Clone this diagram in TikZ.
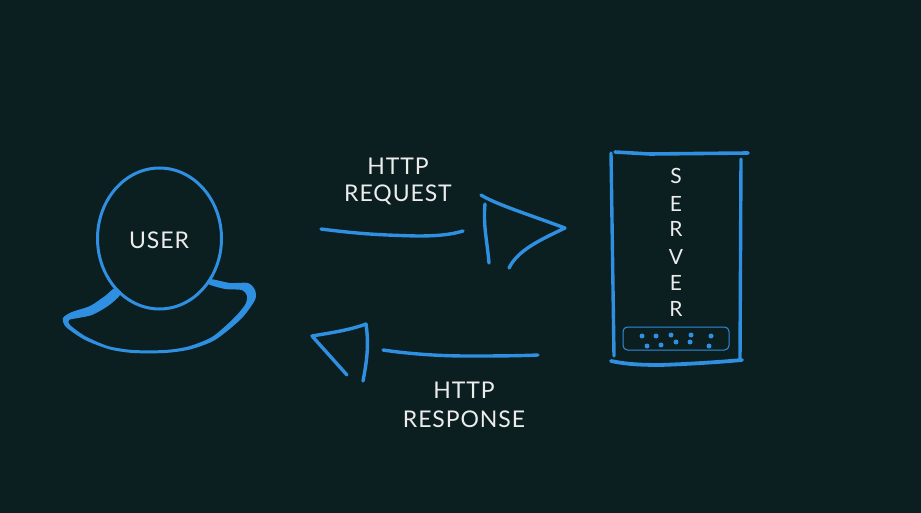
\documentclass[tikz,border=0pt]{standalone}
\usepackage{fontspec}
\usetikzlibrary{shapes.geometric}
\setmainfont{Lato}[LetterSpace=4]
\definecolor{bgc}{HTML}{0B1E20}
\definecolor{inkblue}{HTML}{2F8FE0}
\definecolor{inkwhite}{HTML}{ECECEC}
\tikzset{
  sketch/.style={draw=inkblue,line width=3.4pt,line cap=round,line join=round},
  label/.style={text=inkwhite,font=\fontsize{23}{26}\selectfont,inner sep=0pt},
  serverletter/.style={label,font=\fontsize{21}{24}\selectfont},
  portdot/.style={circle,fill=inkblue,minimum size=5pt,inner sep=0pt}
}
\begin{document}
\begin{tikzpicture}[x=1pt,y=-1pt]
\fill[bgc] (0,0) rectangle (921,513);
\useasboundingbox (0,0) rectangle (921,513);
% head
\node[draw=inkblue,line width=3pt,ellipse,minimum width=124pt,minimum height=141pt,inner sep=0pt] (head) at (159.5,238.5) {};
% shoulders
\fill[inkblue] plot[smooth cycle,tension=0.45] coordinates {(115,288) (105,296) (90,306) (72,312) (63,318) (66,327) (85,340) (110,349.5) (133,353) (165,353) (190,349.5) (215,340) (241,319) (255,300) (255,290) (248,283) (230,283) (210,279) (208,284) (225,289) (242,290) (247,296) (245,305) (233,319) (212,337) (188,346.5) (165,350) (133,350) (108,346) (85,336) (70,325) (69,320) (78,318) (92,315) (108,306) (120,295)};
\node[label] (user) at (159,240) {USER};
% request arrow
\draw[sketch] (321,229) .. controls (360,234) and (380,235) .. (417,236) .. controls (435,236) and (450,235) .. (463,231);
\draw[sketch] (481,195) .. controls (495,204) and (530,215) .. (565,228) .. controls (540,240) and (518,250) .. (509,268);
\draw[sketch] (485,204) .. controls (483,225) and (487,240) .. (489,263);
\node[label] (reqa) at (398,166) {HTTP};
\node[label] (reqb) at (398,195) {REQUEST};
% response arrow
\draw[sketch] (383,350) .. controls (410,354) and (440,356) .. (467,356) .. controls (490,356) and (515,356) .. (538,355);
\draw[sketch] (347,375) -- (312,336) .. controls (330,333) and (350,330) .. (366,324);
\draw[sketch] (366,324) .. controls (369,345) and (367,360) .. (363,381);
\node[label] (resa) at (464,390) {HTTP};
\node[label] (resb) at (464,419) {RESPONSE};
% server
\draw[sketch,line width=3.6pt] (615,152) -- (650,154) -- (748,153);
\draw[sketch] (611,153) -- (614,356);
\draw[sketch] (741,159) -- (740,360);
\draw[sketch,line width=3.8pt] (611,361) .. controls (625,364) and (640,365) .. (660,365) .. controls (690,364) and (720,362) .. (742,360);
\node[serverletter] (s1) at (676,176) {S};
\node[serverletter] (s2) at (676,204) {E};
\node[serverletter] (s3) at (676,229) {R};
\node[serverletter] (s4) at (676,257) {V};
\node[serverletter] (s5) at (676,283) {E};
\node[serverletter] (s6) at (676,309) {R};
\node[draw=inkblue,line width=1pt,rounded corners=4.5pt,minimum width=106pt,minimum height=23pt,inner sep=0pt] (port) at (676,338.5) {};
\node[portdot] (d1) at (642,336) {};
\node[portdot] (d2) at (656,336) {};
\node[portdot] (d3) at (671,335) {};
\node[portdot] (d4) at (691,335) {};
\node[portdot] (d5) at (711,336) {};
\node[portdot] (d6) at (647,346) {};
\node[portdot] (d7) at (661,345) {};
\node[portdot] (d8) at (676,342) {};
\node[portdot] (d9) at (690,342) {};
\node[portdot] (d10) at (709,346) {};
\end{tikzpicture}
\end{document}
